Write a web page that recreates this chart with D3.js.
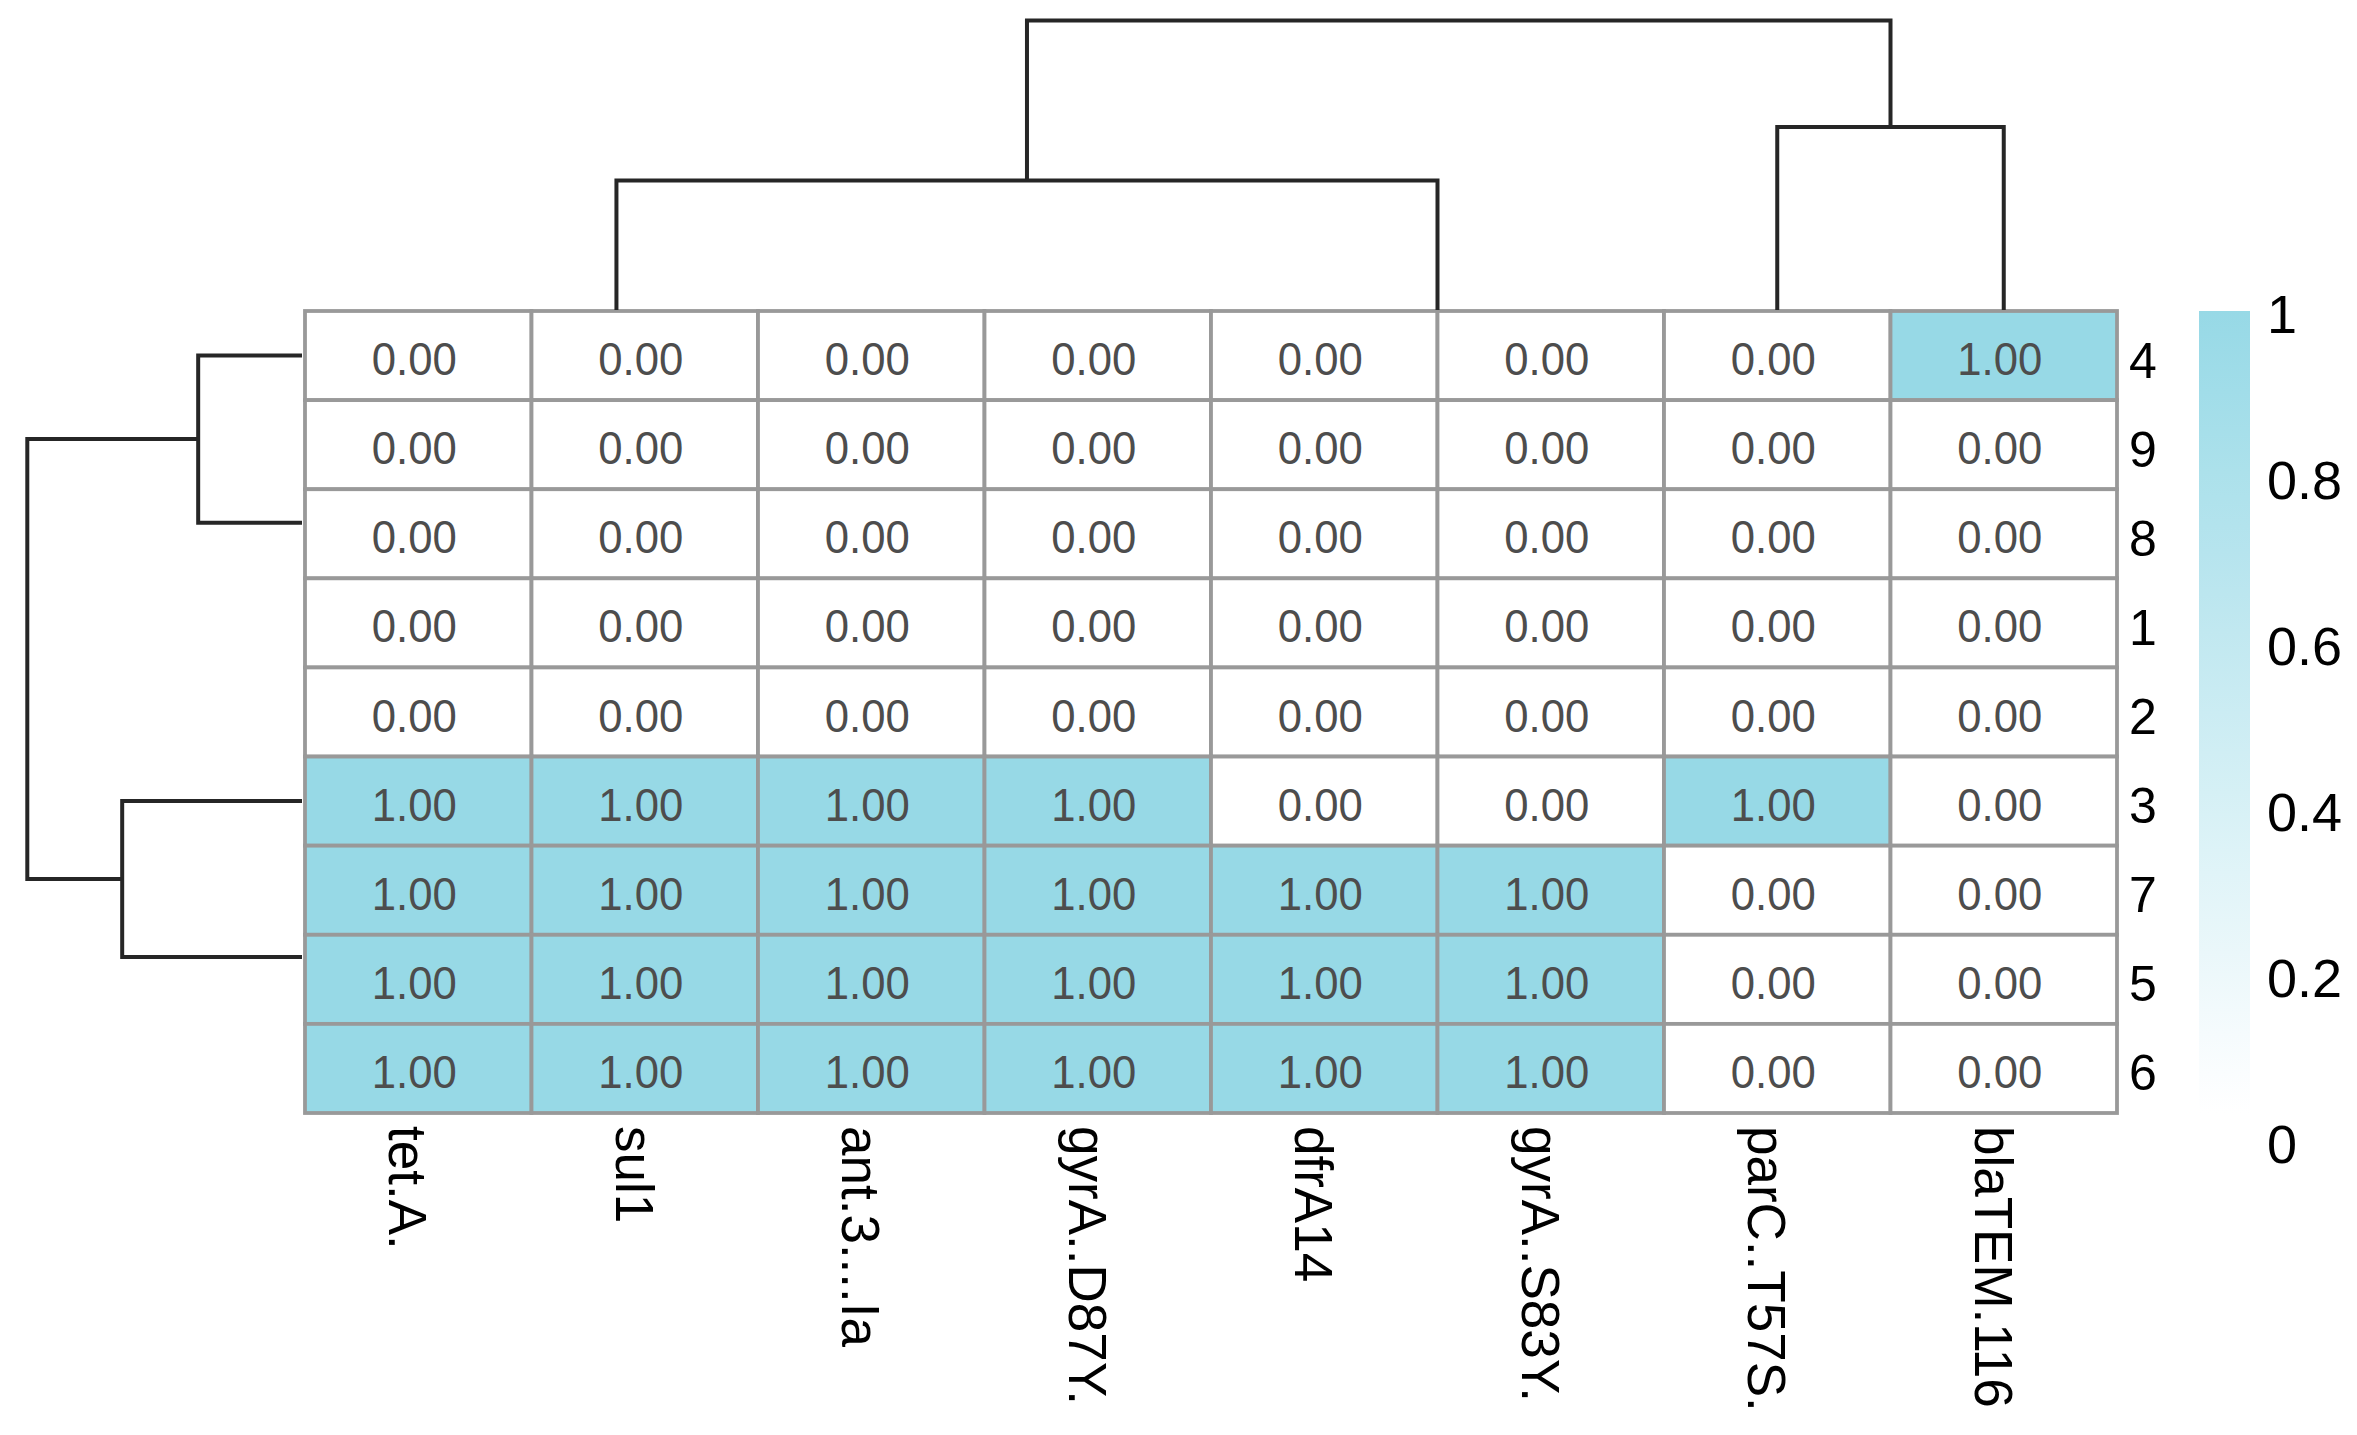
<!DOCTYPE html>
<html>
<head>
<meta charset="utf-8">
<script src="https://cdn.jsdelivr.net/npm/d3@7"></script>
<style>
  html, body { margin: 0; padding: 0; background: #ffffff; }
  svg { display: block; }
  text { font-family: "Liberation Sans", Arial, "DejaVu Sans", sans-serif; }
</style>
</head>
<body>
<svg id="chart" width="2357" height="1435"></svg>
<script>
// ---------------- data ----------------
const colLabels = ["tet.A.", "sul1", "ant.3....Ia", "gyrA..D87Y.", "dfrA14", "gyrA..S83Y.", "parC..T57S.", "blaTEM.116"];
const rowLabels = ["4", "9", "8", "1", "2", "3", "7", "5", "6"];
const values = [
  [0, 0, 0, 0, 0, 0, 0, 1],
  [0, 0, 0, 0, 0, 0, 0, 0],
  [0, 0, 0, 0, 0, 0, 0, 0],
  [0, 0, 0, 0, 0, 0, 0, 0],
  [0, 0, 0, 0, 0, 0, 0, 0],
  [1, 1, 1, 1, 0, 0, 1, 0],
  [1, 1, 1, 1, 1, 1, 0, 0],
  [1, 1, 1, 1, 1, 1, 0, 0],
  [1, 1, 1, 1, 1, 1, 0, 0]
];
const legendTicks = [0, 0.2, 0.4, 0.6, 0.8, 1];
const legendTickLabels = ["0", "0.2", "0.4", "0.6", "0.8", "1"];
// dendrograms: merge height + children (leaf = label)
const colTree = { h: 2.236, children: [
  { h: 1, children: [
    { h: 0, children: ["tet.A.", { h: 0, children: ["sul1", { h: 0, children: ["ant.3....Ia", "gyrA..D87Y."] }] }] },
    { h: 0, children: ["dfrA14", "gyrA..S83Y."] }
  ] },
  { h: 1.414, children: ["parC..T57S.", "blaTEM.116"] }
] };
const rowTree = { h: 2.646, children: [
  { h: 1, children: ["4", { h: 0, children: ["9", { h: 0, children: ["8", { h: 0, children: ["1", "2"] }] }] }] },
  { h: 1.732, children: ["3", { h: 0, children: ["7", { h: 0, children: ["5", "6"] }] }] }
] };

// ---------------- layout ----------------
const svg = d3.select("#chart");
const hm = { left: 305, right: 2117, top: 311, bottom: 1113 };
const x = d3.scaleBand().domain(colLabels).range([hm.left, hm.right]);
const y = d3.scaleBand().domain(rowLabels).range([hm.top, hm.bottom]);
const fillHigh = "#97d9e6";
const color = d3.scaleLinear().domain([0, 1]).range(["#ffffff", fillHigh]);

// ---------------- cells ----------------
const cells = [];
values.forEach((row, i) => row.forEach((v, j) => cells.push({ r: rowLabels[i], c: colLabels[j], v })));

svg.append("g").selectAll("rect").data(cells).join("rect")
  .attr("x", d => x(d.c))
  .attr("y", d => y(d.r))
  .attr("width", x.bandwidth())
  .attr("height", y.bandwidth())
  .attr("fill", d => color(d.v))
  .attr("stroke", "#999999")
  .attr("stroke-width", 3.8);

const numFs = 46;
svg.append("g").selectAll("text").data(cells).join("text")
  .attr("transform", d => `translate(${x(d.c) + x.bandwidth() / 2 - 4},${y(d.r) + y.bandwidth() / 2 + numFs * 0.36 + 3}) scale(0.95,1)`)
  .attr("text-anchor", "middle")
  .attr("font-size", numFs)
  .attr("fill", "#4d4d4d")
  .text(d => d3.format(".2f")(d.v));

// ---------------- row labels ----------------
const rowFs = 50;
svg.append("g").selectAll("text").data(rowLabels).join("text")
  .attr("x", hm.right + 12)
  .attr("y", d => y(d) + y.bandwidth() / 2 + rowFs * 0.36 + 4)
  .attr("font-size", rowFs)
  .attr("fill", "#000")
  .text(d => d);

// ---------------- column labels ----------------
const colFs = 53;
svg.append("g").selectAll("text").data(colLabels).join("text")
  .attr("transform", d => `translate(${x(d) + x.bandwidth() / 2 - 29},${hm.bottom + 13}) rotate(90)`)
  .attr("font-size", colFs)
  .attr("fill", "#000")
  .text(d => d);

// ---------------- dendrograms ----------------
function layout(node, pos) {
  if (typeof node === "string") return { p: pos(node), h: 0 };
  const kids = node.children.map(c => layout(c, pos));
  return { p: d3.mean([kids[0].p, kids[kids.length - 1].p]), h: node.h, kids };
}
function collect(n, out) {
  if (n.kids) { out.push(n); n.kids.forEach(k => collect(k, out)); }
  return out;
}

const colH = d3.scaleLinear().domain([0, 2.236]).range([310, 20.5]);
const colRoot = layout(colTree, d => x(d) + x.bandwidth() / 2);
svg.append("g").selectAll("path").data(collect(colRoot, []).filter(n => n.h > 0)).join("path")
  .attr("d", n => {
    const a = n.kids[0], b = n.kids[1];
    return `M${a.p},${colH(a.h)}V${colH(n.h)}H${b.p}V${colH(b.h)}`;
  })
  .attr("fill", "none")
  .attr("stroke", "#262626")
  .attr("stroke-width", 4);

const rowH = d3.scaleLinear().domain([0, 2.646]).range([302, 27.3]);
const rowRoot = layout(rowTree, d => y(d) + y.bandwidth() / 2);
svg.append("g").selectAll("path").data(collect(rowRoot, []).filter(n => n.h > 0)).join("path")
  .attr("d", n => {
    const a = n.kids[0], b = n.kids[1];
    return `M${rowH(a.h)},${a.p}H${rowH(n.h)}V${b.p}H${rowH(b.h)}`;
  })
  .attr("fill", "none")
  .attr("stroke", "#262626")
  .attr("stroke-width", 4);

// ---------------- legend ----------------
const defs = svg.append("defs");
const grad = defs.append("linearGradient").attr("id", "lg")
  .attr("x1", "0").attr("y1", "1").attr("x2", "0").attr("y2", "0");
grad.selectAll("stop").data(d3.range(0, 1.0001, 0.1)).join("stop")
  .attr("offset", d => d)
  .attr("stop-color", d => color(d));

const barY = d3.scaleLinear().domain([0, 1]).range([hm.bottom, hm.top]);
svg.append("rect")
  .attr("x", 2199).attr("width", 51)
  .attr("y", barY(1)).attr("height", barY(0) - barY(1))
  .attr("fill", "url(#lg)");

const legFs = 54;
const legY = d3.scaleLinear().domain([0, 1]).range([1144, 314]);
svg.append("g").selectAll("text").data(legendTicks).join("text")
  .attr("x", 2267)
  .attr("y", d => legY(d) + legFs * 0.36)
  .attr("font-size", legFs)
  .attr("fill", "#000")
  .text((d, i) => legendTickLabels[i]);
</script>
</body>
</html>
